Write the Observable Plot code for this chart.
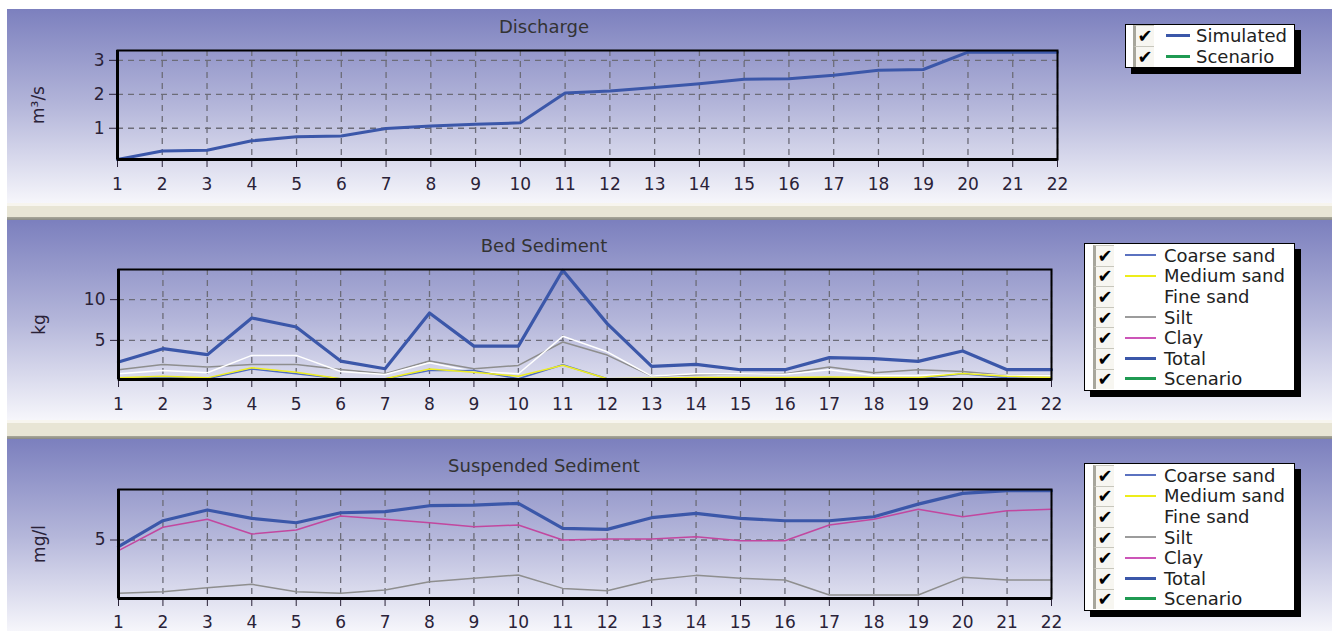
<!DOCTYPE html>
<html><head><meta charset="utf-8">
<script src="https://cdn.jsdelivr.net/npm/d3@7"></script>
<script src="https://cdn.jsdelivr.net/npm/@observablehq/plot@0.6"></script>
<style>
html,body{margin:0;padding:0;background:#fff;width:1332px;height:631px;overflow:hidden;font-family:"DejaVu Sans",sans-serif;}
.panel{position:absolute;left:7px;width:1325px;background:linear-gradient(to bottom,#7c80be 0%,#b4b6da 50%,#f6f6fb 100%);}
.panel svg{display:block;position:absolute;left:0;top:0;}
.sep{position:absolute;left:7px;width:1325px;}
.title{position:absolute;font-size:18px;color:#333;transform:translate(-50%,-50%);white-space:nowrap;}
.legend{position:absolute;box-sizing:border-box;background:#fff;border:1px solid #000;box-shadow:6px 6px 0 #000;}
.row{display:flex;align-items:center;font-size:18px;color:#222;white-space:nowrap;}
.cb{box-sizing:border-box;width:21px;height:100%;border-left:3px solid #a7a69c;border-top:1px solid #c8c7bd;background:#f7f6f1;color:#000;font-size:18px;line-height:1;display:flex;align-items:center;justify-content:center;font-weight:bold;}
.sw{height:0;}
</style></head>
<body>
<div id="root"></div>
<script>
// ---------- data ----------
const days = [1,2,3,4,5,6,7,8,9,10,11,12,13,14,15,16,17,18,19,20,21,22];

const dischargeSimulated = [0.08,0.33,0.35,0.63,0.75,0.77,0.99,1.07,1.12,1.16,2.04,2.10,2.20,2.31,2.44,2.46,2.56,2.71,2.73,3.24,3.24,3.24];

const bedCoarseSand = [0.3,0.5,0.3,1.5,0.9,0.3,0.25,1.3,1.3,0.3,2.0,0.3,0.25,0.3,0.3,0.3,0.4,0.3,0.3,0.9,0.4,0.3];
const bedMediumSand = [0.4,0.6,0.4,1.65,1.1,0.3,0.3,1.5,1.1,0.6,1.95,0.3,0.35,0.45,0.45,0.45,0.5,0.45,0.45,0.95,0.6,0.45];
const bedFineSand   = [0.9,1.3,1.03,3.16,3.16,1.19,0.82,2.26,1.19,0.9,5.5,3.6,0.62,0.9,0.9,0.85,1.4,0.7,0.7,0.9,0.7,0.7];
const bedSilt       = [1.4,2.05,1.72,2.05,2.05,1.44,0.91,2.46,1.52,1.93,4.8,3.2,0.62,0.79,0.9,0.9,1.72,1.03,1.4,1.19,0.7,0.7];
const bedTotal      = [2.34,3.98,3.25,7.75,6.64,2.46,1.52,8.36,4.3,4.3,13.6,7.06,1.8,2.05,1.4,1.4,2.88,2.75,2.42,3.69,1.4,1.4];

const suspSilt  = [1.0,1.11,1.41,1.67,1.11,1.0,1.24,1.86,2.12,2.37,1.36,1.19,1.99,2.34,2.12,1.99,0.86,0.86,0.86,2.19,1.99,1.99];
const suspClay  = [4.2,5.96,6.56,5.45,5.75,6.8,6.56,6.3,6.0,6.13,5.0,5.08,5.08,5.25,4.95,4.95,6.13,6.56,7.31,6.75,7.2,7.31];
const suspTotal = [4.5,6.45,7.26,6.63,6.3,7.05,7.13,7.58,7.63,7.76,5.88,5.8,6.68,7.0,6.63,6.45,6.45,6.75,7.7,8.51,8.71,8.71];

const panelTitles = ["Discharge","Bed Sediment","Suspended Sediment"];
const unitLabels = ["m³/s","kg","mg/l"];
const dischargeTicks = [1,2,3];
const bedTicks = [5,10];
const suspTicks = [5];

const legend1Names = ["Simulated","Scenario"];
const legend1Colors = ["#3b57a9","#1f9a52"];
const legend1Widths = [3,3];
const fractionNames = ["Coarse sand","Medium sand","Fine sand","Silt","Clay","Total","Scenario"];
const fractionColors = ["#5b72c0","#eded1a","#ffffff","#9c9c9c","#cc55b8","#3b57a9","#1f9a52"];
const fractionWidths = [2,2,2,2,2,3.5,3.5];

// ---------- layout ----------
const root = document.getElementById("root");
function div(cls, style, html) {
  const d = document.createElement("div");
  d.className = cls; Object.assign(d.style, style);
  if (html != null) d.innerHTML = html;
  root.appendChild(d); return d;
}
const sepBg = h => `linear-gradient(to bottom,#f7f5ee 0px,#f7f5ee 3px,#e8e5d5 3px,#e8e5d5 ${h-4}px,#a9a89a ${h-4}px,#8a8a84 ${h-1}px,#7c80be ${h-1}px)`;

const panels = [
  {top:9, height:194, mt:41, mb:44, ml:110, mr:275, domain:[0.08,3.29], ticks:dischargeTicks, pad:10,
   series:[{v:dischargeSimulated, c:"#3b57a9", w:3}], titleY:26,
   legend:{left:1125, top:24, width:170, rowH:21, padTop:0, cbLeft:7, lineGap:12, lineW:24, textGap:6,
           names:legend1Names, colors:legend1Colors, widths:legend1Widths}},
  {top:221, height:199, mt:48, mb:41, ml:111, mr:281, domain:[0.2,13.7], ticks:bedTicks, pad:10,
   series:[{v:bedSilt,c:"#8e8e8e",w:1.5},{v:bedFineSand,c:"#ffffff",w:1.5},{v:bedCoarseSand,c:"#4f6cc4",w:1.5},{v:bedMediumSand,c:"#eeee22",w:1.5},{v:bedTotal,c:"#3b57a9",w:3.2}],
   titleY:245,
   legend:{left:1084, top:243, width:211, rowH:20.6, padTop:1, cbLeft:8, lineGap:11, lineW:31, textGap:8,
           names:fractionNames, colors:fractionColors, widths:fractionWidths}},
  {top:440, height:191, mt:49, mb:33, ml:111, mr:281, domain:[0.6,8.8], ticks:suspTicks, pad:9,
   series:[{v:suspSilt,c:"#8e8e8e",w:1.5},{v:suspClay,c:"#c2479f",w:1.5},{v:suspTotal,c:"#3b57a9",w:3.2}],
   titleY:465,
   legend:{left:1084, top:463, width:211, rowH:20.6, padTop:1, cbLeft:8, lineGap:11, lineW:31, textGap:8,
           names:fractionNames, colors:fractionColors, widths:fractionWidths}}
];

div("sep", {top:"203px", height:"18px", background:sepBg(18)});
div("sep", {top:"420px", height:"20px", background:sepBg(20)});

panels.forEach((p, i) => {
  const pd = div("panel", {top:p.top+"px", height:p.height+"px"});
  const rows = [];
  p.series.forEach((s, k) => s.v.forEach((v, j) => rows.push({day: days[j], value: v, k})));
  const grid = {stroke:"#6c6c78", strokeWidth:1.3, strokeDasharray:"6,5"};
  const chart = Plot.plot({
    width:1325, height:p.height,
    marginTop:p.mt, marginBottom:p.mb, marginLeft:p.ml, marginRight:p.mr,
    style:{background:"transparent", fontFamily:"DejaVu Sans", fontSize:"17px", color:"#2a2238", overflow:"visible"},
    x:{domain:[1,22], ticks:days, tickFormat:d=>String(d), tickSize:8, tickPadding:p.pad, label:null},
    y:{domain:p.domain, ticks:p.ticks, tickFormat:d=>String(d), tickSize:8, tickPadding:5, label:unitLabels[i], labelArrow:false, labelAnchor:"center", labelOffset:86},
    marks:[
      Plot.ruleX(days, {...grid}),
      Plot.ruleY(p.ticks, {...grid}),
      ...p.series.map((s, k) => Plot.line(rows.filter(r => r.k === k), {x:"day", y:"value", stroke:s.c, strokeWidth:s.w})),
      Plot.frame({stroke:"#000", strokeWidth:2}),
      Plot.ruleX([1], {stroke:"#000", strokeWidth:3}),
      Plot.ruleY([p.domain[0]], {stroke:"#000", strokeWidth:3})
    ]
  });
  pd.appendChild(chart);

  div("title", {left:"544px", top:p.titleY+"px"}, panelTitles[i]);

  const L = p.legend;
  const n = L.names.length;
  const lg = div("legend", {left:L.left+"px", top:L.top+"px", width:L.width+"px", height:(n*L.rowH + L.padTop*2 + 2)+"px", paddingTop:L.padTop+"px"});
  L.names.forEach((name, k) => {
    const r = document.createElement("div");
    r.className = "row"; r.style.height = L.rowH + "px";
    const cb = document.createElement("div");
    cb.className = "cb"; cb.style.marginLeft = L.cbLeft + "px"; cb.textContent = "✔";
    const sw = document.createElement("div");
    sw.className = "sw";
    Object.assign(sw.style, {marginLeft:L.lineGap+"px", width:L.lineW+"px", borderTop:`${L.widths[k]}px solid ${L.colors[k]}`});
    const tx = document.createElement("span");
    tx.style.marginLeft = L.textGap + "px"; tx.textContent = name;
    r.append(cb, sw, tx);
    lg.appendChild(r);
  });
});
</script>
</body></html>
